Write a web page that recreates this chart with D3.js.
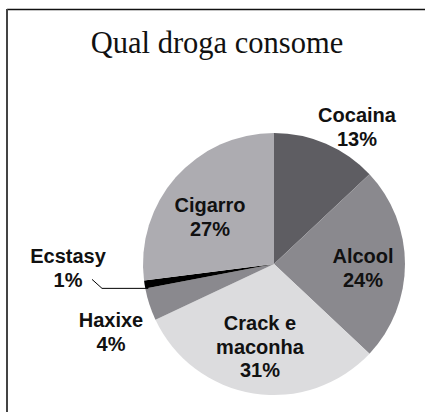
<!DOCTYPE html>
<html><head><meta charset="utf-8">
<script src="https://cdn.jsdelivr.net/npm/d3@7"></script>
<style>html,body{margin:0;padding:0;background:#fff;}</style>
</head><body>
<script>
const categories = ["Cocaina", "Alcool", "Crack e maconha", "Haxixe", "Ecstasy", "Cigarro"];
const values = [13, 24, 31, 4, 1, 27];
const labelLines = [["Cocaina","13%"],["Alcool","24%"],["Crack e","maconha","31%"],["Haxixe","4%"],["Ecstasy","1%"],["Cigarro","27%"]];
const colors = ["#5e5d62", "#8a898e", "#dcdcde", "#8a898e", "#000000", "#adacb1"];
const title = "Qual droga consome";

const W = 425, H = 412;
const cx = 274, cy = 264, R = 131;
// first-line baseline anchors relative to pie centre (layout only)
const labelAnchor = [[83,-142],[89,-1],[-14,66],[-163,63],[-206,-1],[-64,-52]];

const svg = d3.select("body").append("svg").attr("width", W).attr("height", H);

// frame
svg.append("line").attr("x1",7).attr("x2",W).attr("y1",9.5).attr("y2",9.5).attr("stroke","#111").attr("stroke-width",1.5);
svg.append("line").attr("x1",7).attr("x2",7).attr("y1",9).attr("y2",H).attr("stroke","#444").attr("stroke-width",2);

svg.append("text").attr("x",217).attr("y",53).attr("text-anchor","middle")
  .attr("font-family","'Liberation Serif', 'DejaVu Serif', serif").attr("font-size",30.5).attr("fill","#111")
  .text(title);

const g = svg.append("g").attr("transform",`translate(${cx},${cy})`);
const pie = d3.pie().sort(null).value(d=>d)(values);
const arc = d3.arc().innerRadius(0).outerRadius(R);
g.selectAll("path").data(pie).join("path").attr("d",arc).attr("fill",(d,i)=>colors[i]);

// leader line for Ecstasy
const eArc = pie[4];
const a0 = eArc.startAngle;
const px = (R-3)*Math.sin(a0), py = -(R-1)*Math.cos(a0);
g.append("polyline").attr("points",`${px},${py} ${-172},${py} ${-182},${py-9}`)
  .attr("fill","none").attr("stroke","#000").attr("stroke-width",1);

const lh = 23.5;
labelLines.forEach((lines,i)=>{
  const [ax,ay] = labelAnchor[i];
  const t = g.append("text").attr("text-anchor","middle")
    .attr("font-family","'Liberation Sans', Arial, sans-serif").attr("font-weight","bold")
    .attr("font-size",20).attr("fill","#111");
  lines.forEach((s,k)=>t.append("tspan").attr("x",ax).attr("y",ay+k*lh).text(s));
});
</script>
</body></html>
